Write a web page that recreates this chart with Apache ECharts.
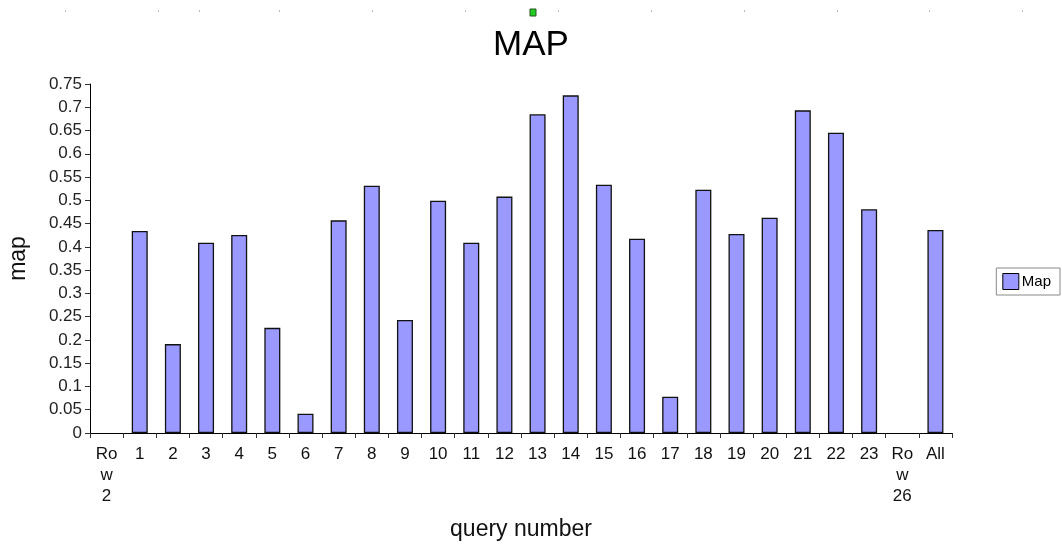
<!DOCTYPE html>
<html>
<head>
<meta charset="utf-8">
<script src="https://cdn.jsdelivr.net/npm/echarts@6/dist/echarts.min.js"></script>
<style>html,body{margin:0;padding:0;background:#fff}#c{width:1062px;height:546px}</style>
</head>
<body>
<div id="c"></div>
<script>
var categories = ['Row 2','1','2','3','4','5','6','7','8','9','10','11','12','13','14','15','16','17','18','19','20','21','22','23','Row 26','All'];
var mapValues = [null,0.434,0.191,0.409,0.4255,0.226,0.0415,0.457,0.5315,0.243,0.499,0.409,0.508,0.685,0.7256,0.5337,0.4176,0.078,0.523,0.4277,0.4628,0.6934,0.6454,0.4807,null,0.4362];
var seriesName = 'Map';

var topMarksX = [65,158,199,279,372,465,558,651,744,837,929,1022];
var graphics = topMarksX.map(function(x){
  return {type:'rect', shape:{x:x, y:10, width:1, height:2}, style:{fill:'#bbb'}, silent:true};
});
graphics.push({type:'rect', shape:{x:530, y:9, width:6, height:7}, style:{fill:'#22cc22', stroke:'#225522', lineWidth:1}, silent:true});

var chart = echarts.init(document.getElementById('c'));
chart.setOption({
  animation:false,
  backgroundColor:'#fff',
  textStyle:{fontFamily:'Liberation Sans, Arial, sans-serif'},
  graphic: graphics,
  title:{
    text:'MAP', left:'center', top:23,
    textStyle:{fontSize:35, fontWeight:'normal', color:'#000', fontFamily:'Liberation Sans, Arial, sans-serif'}
  },
  legend:{
    right:2, top:268, orient:'vertical',
    itemWidth:16, itemHeight:16, itemGap:4,
    padding:[5,9,5,6],
    borderColor:'#888', borderWidth:1,
    textStyle:{fontSize:15, color:'#000', padding:[0,0,0,-2]},
    data:[{name:seriesName, icon:'rect', itemStyle:{color:'#9999ff', borderColor:'#000', borderWidth:1}}]
  },
  grid:{left:90, right:110, top:84, bottom:113, containLabel:false, outerBoundsMode:'none'},
  xAxis:{
    type:'category', data:categories,
    name:'query number', nameLocation:'middle', nameGap:85,
    nameTextStyle:{fontSize:23, color:'#111'},
    axisLine:{lineStyle:{color:'#000', width:1}},
    axisTick:{show:true, length:5, lineStyle:{color:'#333'}},
    axisLabel:{
      fontSize:17, color:'#111', margin:11, lineHeight:21, interval:0,
      formatter:function(v){ return v.indexOf('Row ')===0 ? v.replace('Row ','Ro\nw\n') : v; }
    }
  },
  yAxis:{
    type:'value', min:0, max:0.75, interval:0.05,
    name:'map', nameLocation:'middle', nameGap:60,
    nameTextStyle:{fontSize:23, color:'#111'},
    axisLine:{show:true, lineStyle:{color:'#000', width:1}},
    axisTick:{show:true, length:5, lineStyle:{color:'#333'}},
    splitLine:{show:false},
    axisLabel:{fontSize:17, color:'#222', margin:8,
      formatter:function(v){ return String(Math.round(v*100)/100); }}
  },
  series:[{
    name:seriesName, type:'bar', data:mapValues,
    barWidth:16,
    itemStyle:{color:'#9999ff', borderColor:'#111', borderWidth:1.3}
  }]
});
</script>
</body>
</html>
